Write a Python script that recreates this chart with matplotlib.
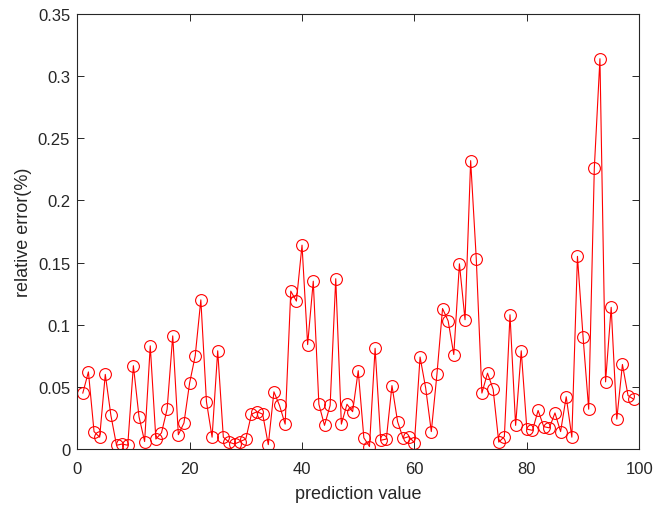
import matplotlib
matplotlib.use('Agg')
import matplotlib.pyplot as plt
import numpy as np

plt.rcParams['font.family'] = ['Liberation Sans', 'DejaVu Sans']

idx = np.arange(1, 100)
err = [0.045, 0.062, 0.014, 0.0095, 0.060, 0.027, 0.003, 0.004, 0.003, 0.067,
       0.026, 0.006, 0.083, 0.008, 0.013, 0.032, 0.091, 0.0115, 0.021, 0.053,
       0.075, 0.120, 0.038, 0.0095, 0.079, 0.0095, 0.0055, 0.004, 0.006, 0.008,
       0.028, 0.030, 0.028, 0.0035, 0.046, 0.035, 0.020, 0.127, 0.119, 0.164,
       0.084, 0.135, 0.036, 0.019, 0.035, 0.137, 0.020, 0.036, 0.030, 0.063,
       0.009, 0.002, 0.081, 0.007, 0.008, 0.051, 0.022, 0.0085, 0.010, 0.005,
       0.074, 0.049, 0.014, 0.060, 0.113, 0.103, 0.076, 0.149, 0.104, 0.232,
       0.153, 0.045, 0.061, 0.048, 0.0055, 0.010, 0.108, 0.019, 0.079, 0.016,
       0.015, 0.031, 0.018, 0.017, 0.029, 0.014, 0.042, 0.0095, 0.155, 0.090,
       0.032, 0.226, 0.314, 0.054, 0.114, 0.024, 0.068, 0.043, 0.040]

xticks = [0, 20, 40, 60, 80, 100]
yticks = [0, 0.05, 0.1, 0.15, 0.2, 0.25, 0.3, 0.35]
ytick_labels = ['0', '0.05', '0.1', '0.15', '0.2', '0.25', '0.3', '0.35']

fig = plt.figure(figsize=(6.54, 5.06), dpi=100)
ax = fig.add_axes([0.118, 0.1107, 0.8595, 0.8597])
ax.plot(idx, err, color='red', linewidth=0.8, marker='o', markersize=8.5,
        markerfacecolor='none', markeredgecolor='red', markeredgewidth=0.8)

ax.set_xlim(0, 100)
ax.set_ylim(0, 0.35)
ax.set_xticks(xticks)
ax.set_yticks(yticks)
ax.set_yticklabels(ytick_labels)
ax.tick_params(direction='in', top=True, right=True, length=5, width=0.7,
               labelsize=12, colors='#262626')
ax.tick_params(axis='x', pad=9)
ax.tick_params(axis='y', pad=5)
for s in ax.spines.values():
    s.set_linewidth(0.8)
    s.set_color('#262626')
ax.set_xlabel('prediction value', fontsize=13, color='#262626', labelpad=6)
ax.set_ylabel('relative error(%)', fontsize=13, color='#262626', labelpad=4)

fig.savefig('out.png', dpi=100)
